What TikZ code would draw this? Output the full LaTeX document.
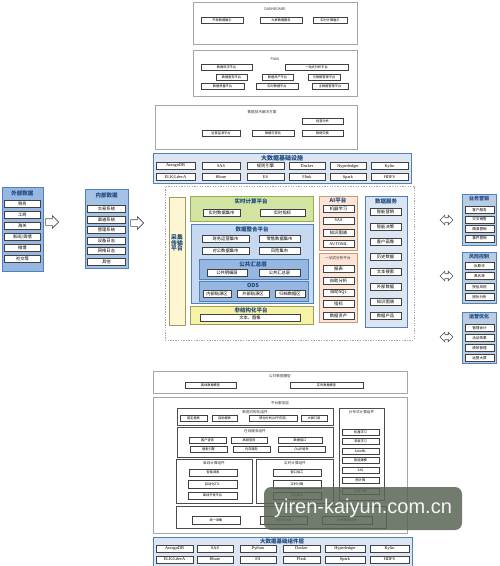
\documentclass[tikz,border=0pt]{standalone}
\usepackage{fontspec}
\setmainfont{Noto Sans CJK SC}
\newfontfamily\lat{Liberation Serif}
\newfontfamily\wmfont{Liberation Sans}
\usetikzlibrary{shapes.arrows}
\definecolor{navy}{HTML}{1F497D}
\definecolor{bord}{HTML}{4F81BD}
\definecolor{lblue}{HTML}{DCE6F2}
\definecolor{mblue}{HTML}{C6D9F1}
\definecolor{dblue}{HTML}{95B7E2}
\definecolor{sblue}{HTML}{A4C2E6}
\definecolor{rblue}{HTML}{B8CCE4}
\definecolor{gfill}{HTML}{D3E4A2}
\definecolor{gbord}{HTML}{8FB04A}
\definecolor{yfill}{HTML}{F7F3A6}
\definecolor{ybord}{HTML}{A39A5A}
\definecolor{cfill}{HTML}{FCF6D2}
\definecolor{pfill}{HTML}{FCE4D6}
\definecolor{pbord}{HTML}{C89A78}
\definecolor{wmgray}{HTML}{5A6655}
\newcommand\fs[1]{\fontsize{#1}{#1}\selectfont}
\newcommand\bx[7]{\node[#1,minimum width={#5-#3},minimum height={#6-#4}] (#2) at ({(#3+#5)/2},{(#4+#6)/2}) {#7};}
\newcommand\ib[6][item]{\node[#1,minimum width={#4-#3}] (#2) at ({(#3+#4)/2},#5) {#6};}
\tikzset{
  panel/.style={inner sep=0pt, line width=0.6pt},
  gbox/.style={panel, draw=gray!70, fill=white, line width=0.9pt},
  item/.style={draw=black!75, fill=white, line width=0.4pt, inner sep=0.3pt, minimum height=7, font=\fs{4.3}},
  gitem/.style={item, minimum height=6, font=\fs{3.2}},
  litem/.style={item, font=\lat\fs{4.3}},
  ttl/.style={inner sep=0pt, font=\bfseries\fs{5.5}, text=navy},
  gttl/.style={inner sep=0pt, font=\fs{3.6}, text=black!80},
  harrow/.style={single arrow, draw=gray!60!black, fill=white, line width=0.6pt, inner sep=0pt, single arrow head extend=3pt, minimum height=13},
  darrow/.style={double arrow, draw=gray!60!black, fill=white, line width=0.6pt, inner sep=0pt, double arrow head extend=2.5pt, minimum height=13},
}
\begin{document}
\begin{tikzpicture}[x=1pt,y=-1pt]
\useasboundingbox (0,0) rectangle (500,566);
\fill[white] (0,0) rectangle (500,566);

% ---------- DASHBOARD ----------
\bx{gbox}{dash}{193}{2}{357}{44}{}
\node[gttl] (dasht) at (275,9) {DASHBOARD};
\ib[gitem]{d1}{201}{243}{20}{开放数据展示}
\ib[gitem]{d2}{260}{302}{20}{大屏数据服务}
\ib[gitem]{d3}{313}{347}{20}{实时计算展示}

% ---------- PAAS ----------
\bx{gbox}{paas}{193}{50}{357}{96}{}
\node[gttl] (paast) at (275,59) {PAAS};
\ib[gitem]{p1}{201}{252}{67}{数据科学平台}
\ib[gitem]{p2}{285}{348}{67}{一站式分析平台}
\ib[gitem]{p3}{216}{247}{77}{数据服务平台}
\ib[gitem]{p4}{262}{293}{77}{数据资产平台}
\ib[gitem]{p5}{308}{340}{77}{元数据管理平台}
\ib[gitem]{p6}{201}{244}{86}{数据质量平台}
\ib[gitem]{p7}{256}{298}{86}{实时数据平台}
\ib[gitem]{p8}{312}{348}{86}{主数据管理平台}

% ---------- solutions ----------
\bx{gbox}{sol}{155}{105}{357}{149}{}
\node[gttl] (solt) at (262,112) {数据技术解决方案};
\ib[gitem]{s1}{302}{343}{121}{经营分析}
\ib[gitem]{s2}{202}{240}{133}{运营监测平台}
\ib[gitem]{s3}{252}{294}{133}{数据可视化}
\ib[gitem]{s4}{302}{343}{133}{数据交换}

% ---------- infrastructure header ----------
\bx{panel,draw=bord,fill=lblue}{infra}{153}{153}{411}{183}{}
\node[ttl,font=\bfseries\fs{6}] (infrat) at (282,158.5) {大数据基础设施};
\ib[litem]{i1}{156}{195}{166}{ArangoDB}
\ib[litem]{i2}{202}{240}{166}{SAS}
\ib[item]{i3}{247}{284}{166}{规则引擎}
\ib[litem]{i4}{289}{325}{166}{Docker}
\ib[litem]{i5}{330}{366}{166}{Hyperledger}
\ib[litem]{i6}{371}{408}{166}{Kylin}
\ib[litem]{i7}{156}{195}{177}{ELK/LdevA}
\ib[litem]{i8}{202}{240}{177}{Hbase}
\ib[litem]{i9}{247}{284}{177}{ES}
\ib[litem]{i10}{289}{325}{177}{Flink}
\ib[litem]{i11}{330}{366}{177}{Spark}
\ib[litem]{i12}{371}{408}{177}{HDFS}

% ---------- dashed platform area ----------
\bx{panel,draw=gray!70,dash pattern=on 1.3pt off 1.3pt,line width=0.7pt}{area}{165}{186}{414}{340}{}

\bx{panel,draw=ybord,fill=cfill}{acq}{169}{197}{185}{325}{}
\node[ttl,align=center,font=\bfseries\fs{5.8}] (acqt) at (177,243) {采集\\[-0.2pt]传输\\[-0.2pt]平台};

\bx{panel,draw=gbord,fill=gfill}{rt}{190}{196}{313}{221}{}
\node[ttl] (rtt) at (251,201) {实时计算平台};
\ib{rt1}{203}{240}{212.5}{实时数据集市}
\ib{rt2}{260}{305}{212.5}{实时指标}

\bx{panel,draw=bord,fill=mblue}{integ}{191}{224}{313}{303}{}
\node[ttl] (integt) at (252,229.5) {数据整合平台};
\ib{g1}{202}{249}{238.5}{财务运营集市}
\ib{g2}{259}{300}{238.5}{零售数据集市}
\ib{g3}{202}{249}{250.5}{对公数据集市}
\ib{g4}{259}{300}{250.5}{风险集市}

\bx{panel,draw=bord,fill=dblue}{pub}{199}{259}{308}{279}{}
\node[ttl] (pubt) at (253,264) {公共汇总层};
\ib{pb1}{207}{247}{272.5}{公共明细层}
\ib{pb2}{259}{300}{272.5}{公共汇总层}

\bx{panel,draw=bord,fill=dblue}{ods}{199}{281}{308}{301}{}
\node[ttl] (odst) at (253,285.5) {ODS};
\ib{o1}{203}{231}{294}{内部贴源区}
\ib{o2}{237}{269}{294}{外部贴源区}
\ib{o3}{275}{305}{294}{归档数据区}

\bx{panel,draw=ybord,fill=yfill}{uns}{190}{306}{313}{324}{}
\node[ttl] (unst) at (251,310.5) {非结构化平台};
\ib{u1}{200}{300}{317.5}{文本、图像}

\bx{panel,draw=pbord,fill=pfill}{ai}{319}{196}{357}{250}{}
\node[ttl] (ait) at (338,200.5) {AI平台};
\ib{ai1}{323}{354}{208.5}{机器学习}
\ib[litem]{ai2}{323}{354}{220.5}{SAS}
\ib{ai3}{323}{354}{232.5}{知识图谱}
\ib[litem]{ai4}{323}{354}{244}{AUTOML}

\bx{panel,draw=pbord,fill=pfill}{ana}{319}{253}{357}{322}{}
\node[ttl,font=\fs{3.6},text=black!80] (anat) at (338,258) {一站式分析平台};
\ib{an1}{323}{354}{269}{报表}
\ib{an2}{323}{354}{280.5}{自助分析}
\ib{an3}{323}{354}{292.5}{自助SQL}
\ib{an4}{323}{354}{304}{指标}
\ib{an5}{323}{354}{316}{数据资产}

\bx{panel,draw=bord,fill=lblue}{svc}{365}{196}{407}{327}{}
\node[ttl] (svct) at (386,201) {数据服务};
\ib{sv1}{370}{401}{212}{智能营销}
\ib{sv2}{370}{401}{227}{智能决策}
\ib{sv3}{370}{401}{242}{客户画像}
\ib{sv4}{370}{401}{256.5}{历史数据}
\ib{sv5}{370}{401}{272}{文本搜索}
\ib{sv6}{370}{401}{287}{外部数据}
\ib{sv7}{370}{401}{301.5}{知识图谱}
\ib{sv8}{370}{401}{316}{数据产品}

% ---------- left sources ----------
\bx{panel,draw=bord,fill=dblue}{ext}{2}{187}{43}{271}{}
\node[ttl] (extt) at (22.5,193) {外部数据};
\ib{e1}{4.5}{40.5}{204}{税务}
\ib{e2}{4.5}{40.5}{215}{工商}
\ib{e3}{4.5}{40.5}{226}{海关}
\ib{e4}{4.5}{40.5}{237}{新闻/舆情}
\ib{e5}{4.5}{40.5}{248}{微博}
\ib{e6}{4.5}{40.5}{259}{社交等}

\bx{panel,draw=bord,fill=sblue}{inn}{85}{189}{128}{268}{}
\node[ttl] (innt) at (106.5,195.5) {内部数据};
\ib{n1}{87.5}{125.5}{209}{交易系统}
\ib{n2}{87.5}{125.5}{219.5}{渠道系统}
\ib{n3}{87.5}{125.5}{230}{管理系统}
\ib{n4}{87.5}{125.5}{240.5}{设备日志}
\ib{n5}{87.5}{125.5}{251}{网络日志}
\ib{n6}{87.5}{125.5}{261.5}{其他}

\node[harrow] (ar1) at (50.5,222) {\rule{0pt}{6pt}};
\node[harrow] (ar2) at (135.5,223) {\rule{0pt}{6pt}};

% ---------- right applications ----------
\node[darrow] (dr1) at (446.5,220) {\rule{0pt}{4pt}};
\node[darrow] (dr2) at (446.5,276) {\rule{0pt}{4pt}};
\node[darrow] (dr3) at (446.5,337) {\rule{0pt}{4pt}};

\bx{panel,draw=bord,fill=rblue}{mk}{462}{194}{496}{245}{}
\node[ttl,font=\bfseries\fs{5}] (mkt) at (479,198.5) {业务营销};
\ib[item,font=\fs{3.6}]{mk1}{465}{494}{210}{客户服务}
\ib[item,font=\fs{3.6}]{mk2}{465}{494}{219.5}{交叉销售}
\ib[item,font=\fs{3.6}]{mk3}{465}{494}{229}{精准营销}
\ib[item,font=\fs{3.6}]{mk4}{465}{494}{238.5}{事件营销}

\bx{panel,draw=bord,fill=rblue}{rk}{462}{252}{496}{303}{}
\node[ttl,font=\bfseries\fs{5}] (rkt) at (479,257) {风险控制};
\ib[item,font=\fs{3.6}]{rk1}{465}{494}{266}{反欺诈}
\ib[item,font=\fs{3.6}]{rk2}{465}{494}{276}{黑名单}
\ib[item,font=\fs{3.6}]{rk3}{465}{494}{287}{授信风险}
\ib[item,font=\fs{3.6}]{rk4}{465}{494}{297}{团伙分析}

\bx{panel,draw=bord,fill=rblue}{op}{462}{312}{496}{363}{}
\node[ttl,font=\bfseries\fs{5}] (opt) at (479,317) {运营优化};
\ib[item,font=\fs{3.6}]{op1}{465}{494}{328}{管理会计}
\ib[item,font=\fs{3.6}]{op2}{465}{494}{338}{活动效果}
\ib[item,font=\fs{3.6}]{op3}{465}{494}{348}{绩效管理}
\ib[item,font=\fs{3.6}]{op4}{465}{494}{358}{运营大屏}

% ---------- public data model ----------
\bx{gbox}{pdm}{153}{371}{407}{393}{}
\node[gttl] (pdmt) at (280,376) {公共数据模型};
\ib[gitem]{pm1}{185}{236}{385.5}{离线数据模型}
\ib[gitem]{pm2}{290}{363}{385.5}{实时数据模型}

% ---------- platform service layer ----------
\bx{gbox}{psl}{153}{397}{407}{533}{}
\node[gttl] (pslt) at (280,403) {平台服务层};

\bx{panel,draw=black!70}{vis}{177}{408}{333}{425}{}
\node[gttl] (vist) at (255,412) {数据可视化组件};
\ib[gitem]{v1}{180}{207}{418.5}{固定报表}
\ib[gitem]{v2}{212}{237}{418.5}{自助报表}
\ib[gitem]{v3}{249}{297}{418.5}{移动分析(APP应用)}
\ib[gitem]{v4}{301}{327}{418.5}{大屏订阅}

\bx{panel,draw=black!70}{onl}{177}{427}{333}{457}{}
\node[gttl] (onlt) at (255,431) {在线服务组件};
\ib[gitem]{ol1}{189}{226}{440.5}{客户查询}
\ib[gitem]{ol2}{231}{267}{440.5}{高频查询}
\ib[gitem]{ol3}{278}{322}{440.5}{数据接口}
\ib[gitem]{ol4}{190}{227}{449.5}{搜索引擎}
\ib[gitem]{ol5}{233}{270}{449.5}{内存服务}
\ib[gitem]{ol6}{278}{325}{449.5}{OLAP组件}

\bx{panel,draw=black!70}{off}{176}{459}{252}{503}{}
\node[gttl] (offt) at (214,463) {离线计算组件};
\ib[gitem,minimum height=7.5]{of1}{189}{237}{472.5}{智能调度}
\ib[gitem,minimum height=7.5]{of2}{188}{237}{484}{自动化ETL}
\ib[gitem,minimum height=7.5]{of3}{188}{237}{495.5}{离线开发平台}

\bx{panel,draw=black!70}{rtc}{256}{459}{333}{503}{}
\node[gttl] (rtct) at (295,463) {实时计算组件};
\ib[gitem,minimum height=7.5]{rc1}{273}{321}{472.5}{窗口加工}
\ib[gitem,minimum height=7.5]{rc2}{273}{321}{484}{实时计算}
\ib[gitem,minimum height=7.5]{rc3}{273}{321}{495.5}{SQL接口}

\bx{panel,draw=black!70}{dist}{339}{408}{384}{500}{}
\node[gttl] (distt) at (361.5,412) {分布式计算组件};
\ib[gitem]{dc1}{342}{379}{432}{机器学习}
\ib[gitem]{dc2}{342}{379}{441.5}{深度学习}
\ib[gitem]{dc3}{342}{379}{451}{AutoML}
\ib[gitem]{dc4}{342}{379}{460.5}{智能建模}
\ib[gitem]{dc5}{342}{379}{470.5}{SAS}
\ib[gitem]{dc6}{342}{379}{480.5}{图计算}
\ib[gitem]{dc7}{342}{379}{491}{流式计算}

\bx{panel,draw=black!70}{bot}{176}{506}{386}{528}{}
\ib[gitem,minimum height=7.5]{b1}{192}{240}{520}{统一采集}
\ib[gitem,minimum height=7.5]{b2}{260}{307}{520}{分布式交换}
\ib[gitem,minimum height=7.5]{b3}{322}{372}{520}{异构数据处理}

% ---------- base components ----------
\bx{panel,draw=bord,fill=lblue}{base}{153}{537}{412}{566}{}
\node[ttl,font=\bfseries\fs{5.5}] (baset) at (282,541) {大数据基础组件层};
\ib[litem]{c1}{156}{193}{548.5}{ArangoDB}
\ib[litem]{c2}{197}{233}{548.5}{SAS}
\ib[litem]{c3}{240}{276}{548.5}{Python}
\ib[litem]{c4}{283}{320}{548.5}{Docker}
\ib[litem]{c5}{325}{365}{548.5}{Hyperledger}
\ib[litem]{c6}{370}{409}{548.5}{Kylin}
\ib[litem]{c7}{156}{193}{559.5}{ELK/LdevA}
\ib[litem]{c8}{197}{233}{559.5}{Hbase}
\ib[litem]{c9}{240}{276}{559.5}{ES}
\ib[litem]{c10}{283}{320}{559.5}{Flink}
\ib[litem]{c11}{325}{365}{559.5}{Spark}
\ib[litem]{c12}{370}{409}{559.5}{HDFS}

% ---------- watermark ----------
\node[rounded corners=7pt, fill=wmgray, fill opacity=0.85, text opacity=1, text=white!92!gray, font=\wmfont\fs{20}, minimum width=198, minimum height=43, inner sep=0pt] (wm) at (363,508.5) {yiren-kaiyun.com.cn};
\end{tikzpicture}
\end{document}
